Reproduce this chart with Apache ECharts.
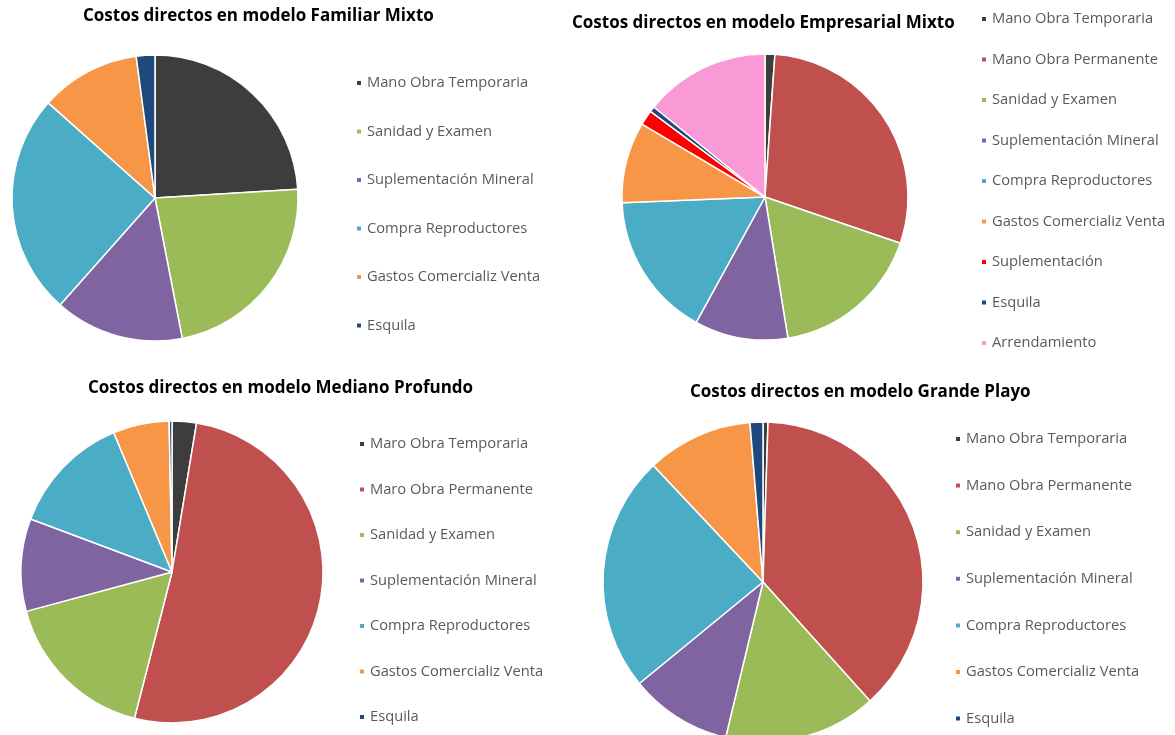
<!DOCTYPE html>
<html>
<head>
<meta charset="utf-8">
<script src="https://cdn.jsdelivr.net/npm/echarts@6/dist/echarts.min.js"></script>
<style>
  html, body { margin: 0; padding: 0; background: #fff; }
  #chart { width: 1175px; height: 735px; }
</style>
</head>
<body>
<div id="chart"></div>
<script>
// categorias y valores (%)
const namesFamiliar = ['Mano Obra Temporaria', 'Sanidad y Examen', 'Suplementación Mineral', 'Compra Reproductores', 'Gastos Comercializ Venta', 'Esquila']
const valuesFamiliar = [24.0, 22.9, 14.6, 25.0, 11.3, 2.1]

const namesEmpresarial = ['Mano Obra Temporaria', 'Mano Obra Permanente', 'Sanidad y Examen', 'Suplementación Mineral', 'Compra Reproductores', 'Gastos Comercializ Venta', 'Suplementación', 'Esquila', 'Arrendamiento']
const valuesEmpresarial = [1.1, 29.0, 17.1, 10.5, 16.3, 9.1, 1.7, 0.6, 14.1]

const namesMediano = ['Maro Obra Temporaria', 'Maro Obra Permanente', 'Sanidad y Examen', 'Suplementación Mineral', 'Compra Reproductores', 'Gastos Comercializ Venta', 'Esquila']
const valuesMediano = [2.6, 51.4, 16.8, 9.9, 13.0, 6.0, 0.3]

const namesGrande = ['Mano Obra Temporaria', 'Mano Obra Permanente', 'Sanidad y Examen', 'Suplementación Mineral', 'Compra Reproductores', 'Gastos Comercializ Venta', 'Esquila']
const valuesGrande = [0.5, 37.8, 15.4, 10.3, 23.9, 10.7, 1.3]

const colorFor = {
  'Temporaria': '#3d3d3d',
  'Permanente': '#c0504d',
  'Sanidad y Examen': '#9bbb59',
  'Suplementación Mineral': '#8064a2',
  'Compra Reproductores': '#4bacc6',
  'Gastos Comercializ Venta': '#f79646',
  'Suplementación': '#ff0000',
  'Esquila': '#1f497d',
  'Arrendamiento': '#f99ad6'
}

function pickColor(name) {
  if (name.indexOf('Temporaria') >= 0) return colorFor['Temporaria']
  if (name.indexOf('Permanente') >= 0) return colorFor['Permanente']
  return colorFor[name]
}

function buildData(names, values) {
  return names.map(function (n, i) {
    return { name: n, value: values[i], itemStyle: { color: pickColor(n) } }
  })
}

function makePie(names, values, center, radius) {
  return {
    type: 'pie',
    center: center,
    radius: radius,
    startAngle: 90,
    clockwise: true,
    avoidLabelOverlap: false,
    label: { show: false },
    labelLine: { show: false },
    itemStyle: { borderColor: '#fff', borderWidth: 1.5 },
    emphasis: { disabled: true },
    data: buildData(names, values)
  }
}

function makeLegend(names, left, top, gap) {
  return {
    orient: 'vertical',
    left: left,
    top: top,
    padding: 0,
    itemGap: gap,
    itemWidth: 6,
    itemHeight: 6,
    icon: 'rect',
    textStyle: { fontFamily: 'Open Sans', fontSize: 14.7, color: '#5a5a5a', lineHeight: 16 },
    data: names
  }
}

const titleStyle = { fontFamily: 'Open Sans', fontSize: 17, fontWeight: 'bold', color: '#000' }

const myChart = echarts.init(document.getElementById('chart'))

const options = {
  animation: false,
  title: [
    { text: 'Costos directos en modelo Familiar Mixto', left: 83, top: 8, padding: 0, textStyle: titleStyle },
    { text: 'Costos directos en modelo Empresarial Mixto', left: 572, top: 15, padding: 0, textStyle: titleStyle },
    { text: 'Costos directos en modelo Mediano Profundo', left: 88, top: 380, padding: 0, textStyle: titleStyle },
    { text: 'Costos directos en modelo Grande Playo', left: 690, top: 384, padding: 0, textStyle: titleStyle }
  ],
  legend: [
    makeLegend(namesFamiliar, 355, 75, 32.5),
    makeLegend(namesEmpresarial, 980, 11, 24.5),
    makeLegend(namesMediano, 358, 436, 29.5),
    makeLegend(namesGrande, 954, 431, 30.6)
  ],
  series: [
    makePie(namesFamiliar, valuesFamiliar, [155, 198], 143),
    makePie(namesEmpresarial, valuesEmpresarial, [765, 197], 143),
    makePie(namesMediano, valuesMediano, [172, 572], 151),
    makePie(namesGrande, valuesGrande, [763, 582], 160)
  ]
}

myChart.setOption(options)
</script>
</body>
</html>
